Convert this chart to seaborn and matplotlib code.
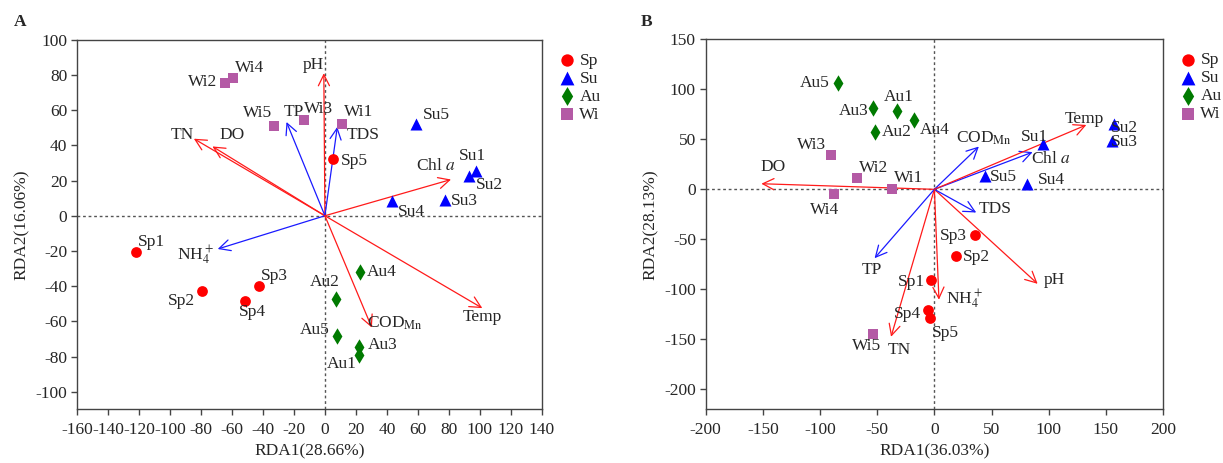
import pandas as pd
import matplotlib.pyplot as plt
import seaborn as sns

# season groups and site names
seasons = ['Sp', 'Su', 'Au', 'Wi']
sites = ['Sp1', 'Sp2', 'Sp3', 'Sp4', 'Sp5',
         'Su1', 'Su2', 'Su3', 'Su4', 'Su5',
         'Au1', 'Au2', 'Au3', 'Au4', 'Au5',
         'Wi1', 'Wi2', 'Wi3', 'Wi4', 'Wi5']
site_season = [s[:2] for s in sites]

# panel A site scores
a_rda1 = [-121.8, -79.5, -42.5, -51.7, 5.1,
          97.7, 93.1, 77.5, 43.4, 59.1,
          22.1, 7.4, 22.1, 22.5, 7.8,
          10.8, -64.4, -13.8, -59.1, -32.6]
a_rda2 = [-20.6, -42.5, -40.2, -48.5, 32.2,
          25.7, 22.5, 9.1, 8.2, 52.4,
          -79.4, -47.5, -74.5, -32.1, -68.5,
          52.4, 75.6, 54.7, 78.5, 51.2]

# panel B site scores
b_rda1 = [-2.7, 18.8, 35.6, -6.0, -3.7,
          95.3, 156.7, 155.0, 80.9, 44.0,
          -32.9, -52.0, -53.7, -18.1, -84.2,
          -37.2, -67.4, -90.3, -87.6, -53.4]
b_rda2 = [-90.8, -66.6, -46.0, -120.3, -128.6,
          45.5, 65.4, 48.8, 5.0, 13.3,
          78.7, 57.1, 81.3, 69.4, 105.9,
          0.0, 11.6, 34.5, -5.0, -144.6]

# environmental factors
env_names = ['pH', 'TN', 'DO', 'TP', 'TDS', 'Chl $a$', 'NH$_4^+$', 'COD$_{\\mathrm{Mn}}$', 'Temp']
a_env_x = [-0.7, -84.6, -72.6, -24.8, 8.0, 81.4, -69.2, 30.3, 101.6]
a_env_y = [81.0, 43.8, 39.4, 53.3, 50.5, 20.6, -18.9, -63.6, -52.5]
a_env_col = ['r', 'r', 'r', 'b', 'b', 'r', 'b', 'r', 'r']
b_env_x = [90.3, -37.9, -151.3, -52.3, 36.6, 85.9, 4.0, 38.9, 132.9]
b_env_y = [-94.5, -147.5, 5.6, -68.9, -23.2, 37.2, -110.4, 42.8, 64.4]
b_env_col = ['r', 'r', 'r', 'b', 'b', 'b', 'r', 'b', 'r']

# label placement (centres)
a_site_lab = [(-112.2, -15.1), (-92.6, -48.5), (-32.9, -34.0), (-46.7, -54.7), (18.9, 31.4),
              (95.2, 33.7), (106.2, 17.7), (90.1, 8.6), (56.1, 1.9), (71.7, 57.1),
              (10.8, -84.5), (0.0, -37.7), (37.2, -73.6), (36.6, -32.1), (-6.4, -64.7),
              (21.8, 59.0), (-78.9, 76.2), (-4.4, 60.4), (-48.5, 83.8), (-43.2, 58.5)]
a_env_lab = [(-7.6, 85.7), (-92.0, 45.7), (-60.0, 45.7), (-19.8, 59.0), (24.6, 45.7),
             (71.3, 28.0), (-83.4, -22.6), (45.3, -61.3), (101.6, -57.5)]
b_site_lab = [(-19.8, -93.1), (36.6, -67.9), (16.4, -46.7), (-23.8, -124.3), (9.7, -143.6),
              (87.9, 52.1), (165.8, 61.4), (165.8, 47.1), (102.0, 9.0), (60.0, 12.3),
              (-31.5, 91.9), (-32.9, 57.1), (-70.8, 78.7), (0.7, 59.4), (-104.4, 105.9),
              (-22.8, 11.6), (-53.4, 21.6), (-107.7, 44.8), (-96.0, -20.9), (-59.1, -156.9)]
b_env_lab = [(104.7, -91.1), (-30.5, -160.2), (-141.3, 22.2), (-54.7, -80.5), (53.4, -19.2),
             (102.0, 30.5), (26.5, -110.4), (43.3, 51.4), (131.5, 70.4)]

sns.set_style('ticks')
plt.rcParams['font.family'] = ['Liberation Serif', 'DejaVu Serif']
plt.rcParams['mathtext.fontset'] = 'stix'
plt.rcParams['axes.unicode_minus'] = False
plt.rcParams['font.size'] = 12.5

palette = {'Sp': '#ff0000', 'Su': '#0000ff', 'Au': '#007a00', 'Wi': '#b45aa5'}
markers = {'Sp': 'o', 'Su': '^', 'Au': 'd', 'Wi': 's'}
msize = {'Sp': 60, 'Su': 75, 'Au': 70, 'Wi': 50}
arrow_col = {'r': '#ff1a1a', 'b': '#1a1aff'}

fig = plt.figure(figsize=(12.23, 4.63), dpi=100)
ax_a = fig.add_axes([0.063, 0.116, 0.380, 0.798])
ax_b = fig.add_axes([0.577, 0.116, 0.374, 0.799])


def draw_panel(ax, xs, ys, env_x, env_y, env_col, site_lab, env_lab, xlim, ylim, xticks, yticks,
               xlabel, ylabel):
    df = pd.DataFrame({'site': sites, 'season': site_season, 'x': xs, 'y': ys})
    ax.axhline(0, color='#555555', ls=(0, (2, 2)), lw=1, zorder=0)
    ax.axvline(0, color='#555555', ls=(0, (2, 2)), lw=1, zorder=0)
    for ex, ey, c in zip(env_x, env_y, env_col):
        ax.annotate('', xy=(ex, ey), xytext=(0, 0),
                    arrowprops=dict(arrowstyle='->', color=arrow_col[c], lw=0.9,
                                    mutation_scale=20, shrinkA=0, shrinkB=0))
    for s in seasons:
        sub = df[df['season'] == s]
        sns.scatterplot(data=sub, x='x', y='y', ax=ax, color=palette[s], marker=markers[s],
                        s=msize[s], linewidth=0, label=s, zorder=3)
    for name, (lx, ly) in zip(sites, site_lab):
        ax.text(lx, ly, name, ha='center', va='center', fontsize=12.5)
    for name, (lx, ly) in zip(env_names, env_lab):
        ax.text(lx, ly, name, ha='center', va='center', fontsize=12.5)
    ax.set_xlim(*xlim)
    ax.set_ylim(*ylim)
    ax.set_xticks(xticks)
    ax.set_yticks(yticks)
    ax.set_xlabel(xlabel, fontsize=12.5, labelpad=4)
    ax.set_ylabel(ylabel, fontsize=12.5, labelpad=4)
    for sp in ax.spines.values():
        sp.set_visible(True)
        sp.set_color('#444444')
        sp.set_linewidth(1)
    ax.tick_params(direction='out', length=4, width=1, color='#444444', labelsize=12.5, pad=3)
    ax.tick_params(axis='x', pad=5)
    ax.legend(loc='upper left', bbox_to_anchor=(1.04, 0.965), frameon=False,
              handletextpad=0.3, labelspacing=0.1, borderaxespad=0, borderpad=0,
              handlelength=0.8, markerscale=1.15, fontsize=12.5)


draw_panel(ax_a, a_rda1, a_rda2, a_env_x, a_env_y, a_env_col, a_site_lab, a_env_lab,
           (-160, 140), (-110, 100), list(range(-160, 141, 20)), list(range(-100, 101, 20)),
           'RDA1(28.66%)', 'RDA2(16.06%)')
draw_panel(ax_b, b_rda1, b_rda2, b_env_x, b_env_y, b_env_col, b_site_lab, b_env_lab,
           (-200, 200), (-220, 150), list(range(-200, 201, 50)), list(range(-200, 151, 50)),
           'RDA1(36.03%)', 'RDA2(28.13%)')

fig.text(0.011, 0.953, 'A', fontsize=12.5, fontweight='bold', ha='left', va='center')
fig.text(0.524, 0.953, 'B', fontsize=12.5, fontweight='bold', ha='left', va='center')

fig.savefig('out.png', dpi=100)
